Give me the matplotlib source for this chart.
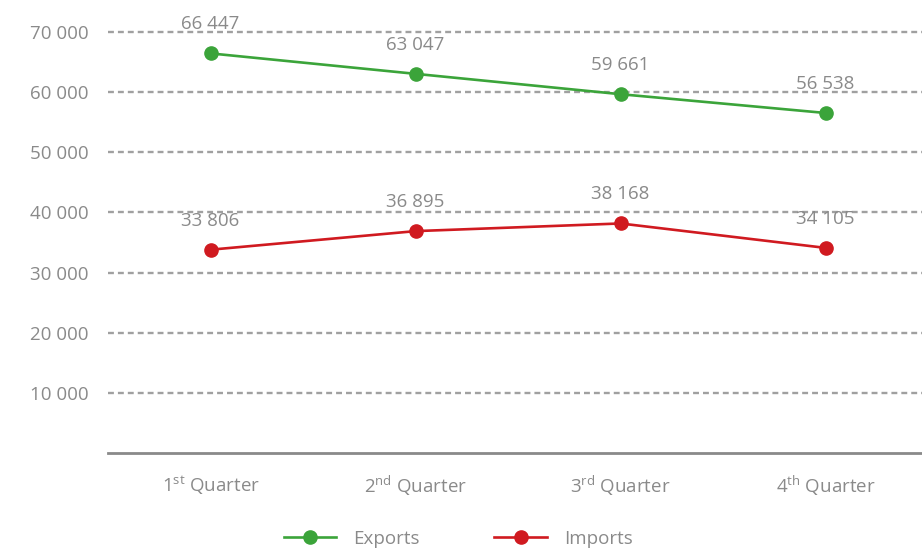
import matplotlib.pyplot as plt
from matplotlib.ticker import FuncFormatter

plt.rcParams['font.family'] = ['Open Sans', 'DejaVu Sans']
plt.rcParams['mathtext.fontset'] = 'custom'
plt.rcParams['mathtext.rm'] = 'Open Sans'
plt.rcParams['mathtext.it'] = 'Open Sans:italic'

quarters = [r'1$^{\mathrm{st}}$ Quarter', r'2$^{\mathrm{nd}}$ Quarter',
            r'3$^{\mathrm{rd}}$ Quarter', r'4$^{\mathrm{th}}$ Quarter']
exports = [66447, 63047, 59661, 56538]
imports = [33806, 36895, 38168, 34105]
yticks = [10000, 20000, 30000, 40000, 50000, 60000, 70000]

GREEN = '#3ba43a'
RED = '#d01a20'
GREY = '#8a8a8a'
FS = 13.5


def spaced(v, pos=None):
    return f'{int(v):,}'.replace(',', ' ')


fig = plt.figure(figsize=(9.22, 5.51), dpi=100)
ax = fig.add_axes([108 / 922, 1 - 453 / 551, 1 - 108 / 922, (453 - 20) / 551])

x = range(len(quarters))
ax.plot(x, exports, color=GREEN, lw=1.9, marker='o', ms=9.5, label='Exports', zorder=3)
ax.plot(x, imports, color=RED, lw=1.9, marker='o', ms=9.5, label='Imports', zorder=3)

for series in (exports, imports):
    for i, v in enumerate(series):
        ax.annotate(spaced(v), (i, v), xytext=(0, 21), textcoords='offset points',
                    ha='center', va='center', fontsize=FS, color=GREY)

ax.set_xlim(-0.5, 3.47)
ax.set_ylim(0, 72000)
ax.set_yticks(yticks)
ax.yaxis.set_major_formatter(FuncFormatter(spaced))
ax.set_xticks(list(x))
ax.set_xticklabels(quarters)

ax.grid(axis='y', color='#a0a0a0', lw=1.7, ls=(0, (2.5, 1.7)))
ax.set_axisbelow(True)
for side in ('top', 'right', 'left'):
    ax.spines[side].set_visible(False)
ax.spines['bottom'].set_color(GREY)
ax.spines['bottom'].set_linewidth(2)

ax.tick_params(axis='y', length=0, pad=14, labelsize=FS, labelcolor=GREY)
ax.tick_params(axis='x', length=0, pad=15, labelsize=FS, labelcolor=GREY)

fig.legend(loc='center', bbox_to_anchor=(458 / 922, 1 - 539 / 551), ncol=2, frameon=False,
           fontsize=FS, labelcolor=GREY, handlelength=2.8, columnspacing=4.0,
           handletextpad=0.9)

fig.savefig('out.png', dpi=100)
